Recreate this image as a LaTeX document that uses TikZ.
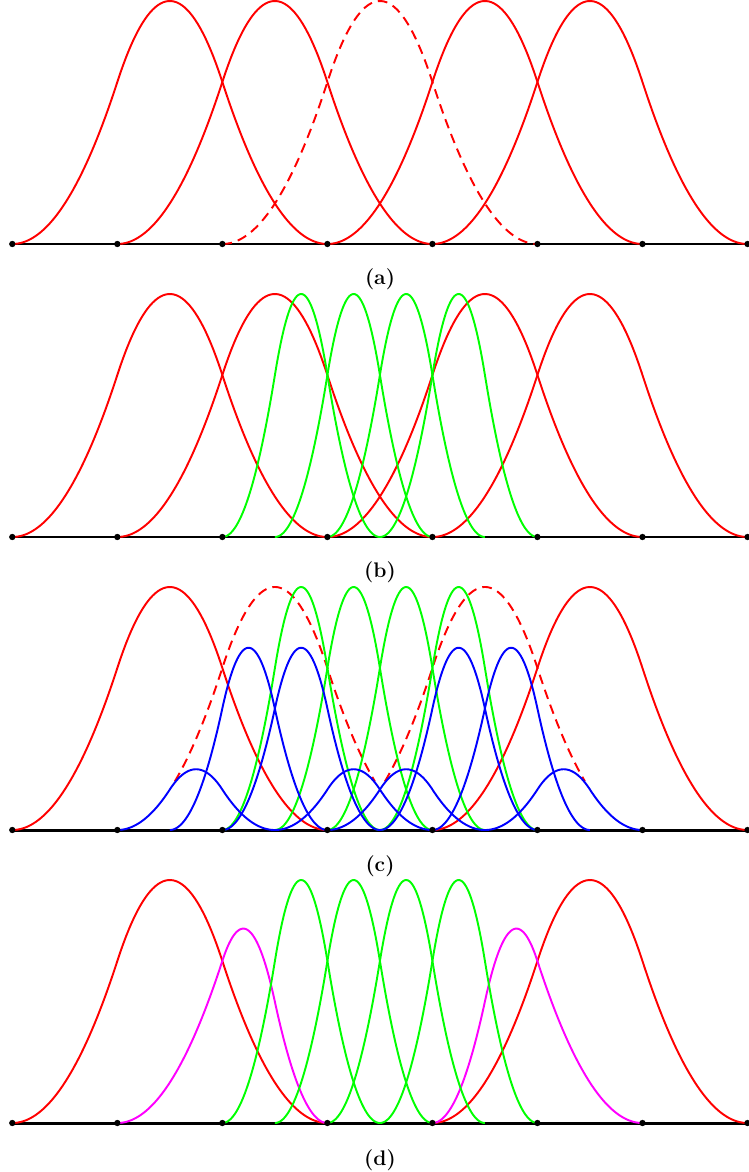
\documentclass[tikz,border=0pt]{standalone}
\usetikzlibrary{calc}
\usepackage{xcolor}
\definecolor{truncmag}{RGB}{255,0,255}
\definecolor{finegreen}{RGB}{0,255,0}

% one quadratic B-spline: [plot opts] {style} {left end} {knot spacing} {scale} {baseline}
\newcommand{\bspl}[6][]{%
  \draw[#2] plot[domain=#3:#3+3*#4, samples=120, #1] (\x, {#6-324*#5*qb((\x-#3)/#4)});}

\begin{document}
\begin{tikzpicture}[x=0.02cm, y=-0.02cm,
    declare function={qb(\t)=ifthenelse(\t<0, 0, ifthenelse(\t<1, \t*\t/2,
        ifthenelse(\t<2, (-2*\t*\t+6*\t-3)/2, ifthenelse(\t<3, (3-\t)*(3-\t)/2, 0))));},
    spl/.style={line width=1.1pt, line join=round},
    coarse/.style={spl, red},
    hidden/.style={spl, red, dash pattern=on 5.5pt off 3.5pt},
    fine/.style={spl, finegreen},
    child/.style={spl, blue},
    trunc/.style={spl, truncmag},
    axis/.style={line width=1.7pt, black},
    knot/.style={circle, fill=black, inner sep=0pt, minimum size=3.6pt},
    caption/.style={font=\fontsize{12}{14}\selectfont\bfseries}]
\useasboundingbox (0,0) rectangle (748,1172);

% baselines
\foreach \y/\p in {244/a, 537/b, 830/c, 1123/d}
  \draw[axis] (12.3,\y) coordinate (\p0) -- (747.5,\y) coordinate (\p7);

% (a) coarse level
\foreach \l in {12.3, 117.3, 327.4, 432.4}
  {\bspl{coarse}{\l}{105.03}{1}{244}}
\bspl{hidden}{222.4}{105.03}{1}{244}

% (b) one coarse function refined
\foreach \l in {12.3, 117.3, 327.4, 432.4}
  {\bspl{coarse}{\l}{105.03}{1}{537}}
\foreach \l in {222.4, 274.9, 327.4, 379.9}
  {\bspl{fine}{\l}{52.51}{1}{537}}

% (c) children of the two neighbours
\foreach \l in {12.3, 432.4}
  {\bspl{coarse}{\l}{105.03}{1}{830}}
\bspl[domain=174.9:374.9]{hidden}{117.3}{105.03}{1}{830}
\bspl[domain=384.9:584.9]{hidden}{327.4}{105.03}{1}{830}
\foreach \l in {222.4, 274.9, 327.4, 379.9}
  {\bspl{fine}{\l}{52.51}{1}{830}}
\foreach \l/\c in {117.3/0.25, 169.8/0.75, 222.4/0.75, 274.9/0.25,
                   327.4/0.25, 379.9/0.75, 432.4/0.75, 484.9/0.25}
  {\bspl{child}{\l}{52.51}{\c}{830}}

% (d) truncated basis
\foreach \l in {12.3, 432.4}
  {\bspl{coarse}{\l}{105.03}{1}{1123}}
\draw[trunc] plot[domain=117.3:327.4, samples=140]
  (\x, {1123-324*(0.25*qb((\x-117.3)/52.51)+0.75*qb((\x-169.8)/52.51))});
\draw[trunc] plot[domain=432.4:642.5, samples=140]
  (\x, {1123-324*(0.75*qb((\x-432.4)/52.51)+0.25*qb((\x-484.9)/52.51))});
\foreach \l in {222.4, 274.9, 327.4, 379.9}
  {\bspl{fine}{\l}{52.51}{1}{1123}}

% knots
\foreach \y/\p in {244/a, 537/b, 830/c, 1123/d}
  \foreach \k in {0,...,7}
    \node[knot] (\p k\k) at ({12.3+105.03*\k},\y) {};

% captions
\node[caption] (capa) at (380,279) {(a)};
\node[caption] (capb) at (380,572.5) {(b)};
\node[caption] (capc) at (380,866) {(c)};
\node[caption] (capd) at (380,1160) {(d)};
\end{tikzpicture}
\end{document}
